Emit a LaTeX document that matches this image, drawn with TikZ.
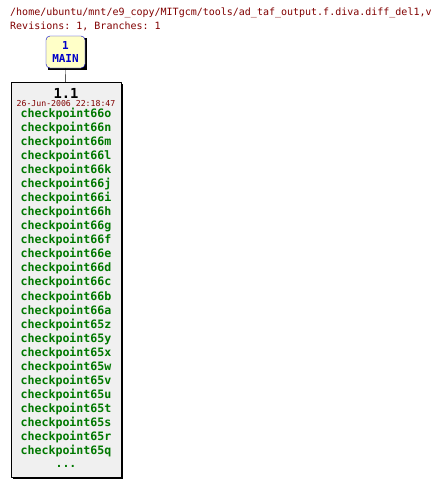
\documentclass[tikz,border=0pt]{standalone}
\usepackage{fontspec}
\setmonofont{DejaVu Sans Mono}
\usetikzlibrary{calc}
\definecolor{cvsred}{RGB}{128,0,0}
\definecolor{cvsgreen}{RGB}{0,120,0}
\definecolor{cvsblue}{RGB}{0,0,200}
\definecolor{cvsyellow}{RGB}{255,255,200}
\definecolor{cvsgray}{RGB}{240,240,240}
\tikzset{
  header/.style={anchor=west, inner sep=0pt, text=cvsred, font=\ttfamily\fontsize{10}{12}\selectfont},
  branchbox/.style={draw=cvsblue, fill=cvsyellow, rounded corners=4pt, minimum width=39pt, minimum height=32pt, inner sep=0pt, align=center, text=cvsblue, font=\ttfamily\bfseries\fontsize{11}{13}\selectfont},
  revbox/.style={draw=black, fill=cvsgray, minimum width=110pt, minimum height=395pt, inner sep=0pt},
  tag/.style={inner sep=0pt, text=cvsgreen, font=\ttfamily\bfseries\fontsize{11.6}{12}\selectfont}
}

\begin{document}
\begin{tikzpicture}[x=1pt, y=-1pt, line join=round]
    \useasboundingbox (0,0) rectangle (440,485);
    \node[header] (path) at (10,13) {/home/ubuntu/mnt/e9\_copy/MITgcm/tools/ad\_taf\_output.f.diva.diff\_del1,v};
    \node[header] (count) at (10,26) {Revisions: 1, Branches: 1};

    \fill[black] (48,38) rectangle (87,70);
    \node[branchbox] (main) at (65.5,52) {1\\MAIN};

    \fill[black] (13,84) rectangle (123,479);
    \node[revbox] (rev) at (66,279.5) {};
    \draw[black] (main) -- (rev);

    \node[inner sep=0pt, font=\ttfamily\bfseries\fontsize{13.8}{14}\selectfont] (num) at (66,93.5) {1.1};
    \node[inner sep=0pt, text=cvsred, font=\ttfamily\fontsize{8.2}{9}\selectfont] (date) at (66,104) {26-Jun-2006 22:18:47};

    \foreach \t [count=\i from 0] in {66o,66n,66m,66l,66k,66j,66i,66h,66g,66f,66e,66d,66c,66b,66a,65z,65y,65x,65w,65v,65u,65t,65s,65r,65q}
    {
    \node[tag] (tag\i) at (66,114+14.04*\i) {checkpoint\t};
    }
    \node[tag] (more) at (66,466) {...};
\end{tikzpicture}
\end{document}
